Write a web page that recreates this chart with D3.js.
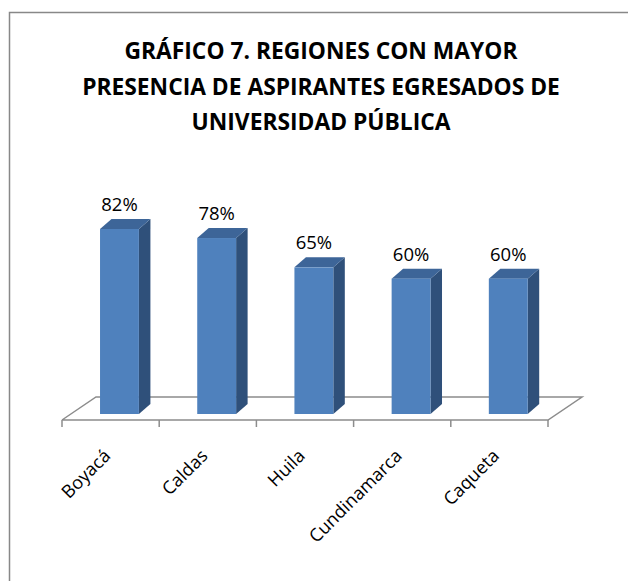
<!DOCTYPE html>
<html>
<head>
<meta charset="utf-8">
<script src="https://cdn.jsdelivr.net/npm/d3@7"></script>
<style>
  body { margin: 0; background: #fff; }
  svg { display: block; font-family: "Open Sans", sans-serif; }
</style>
</head>
<body>
<svg id="chart"></svg>
<script>
var categories = ["Boyacá", "Caldas", "Huila", "Cundinamarca", "Caqueta"];
var values = [82, 78, 65, 60, 60];
var valueLabels = ["82%", "78%", "65%", "60%", "60%"];
var titleLines = ["GRÁFICO 7. REGIONES CON MAYOR", "PRESENCIA DE ASPIRANTES EGRESADOS DE", "UNIVERSIDAD PÚBLICA"];

var width = 628, height = 581;
var svg = d3.select("#chart")
    .attr("width", width)
    .attr("height", height);

// chart frame (right and bottom fall outside the picture)
svg.append("rect")
    .attr("x", 9.5).attr("y", 12.5)
    .attr("width", 640).attr("height", 600)
    .attr("fill", "#fff")
    .attr("stroke", "#888").attr("stroke-width", 1.5);

// title
svg.append("g").selectAll("text")
    .data(titleLines)
    .enter().append("text")
    .attr("x", 321)
    .attr("y", (d, i) => 59 + i * 35.5)
    .attr("text-anchor", "middle")
    .attr("font-size", 22.8)
    .attr("font-weight", "bold")
    .attr("fill", "#000")
    .text(d => d);

// floor geometry
var floorY = 420, floorDx = 34, floorDy = -23;
var x = d3.scaleBand()
    .domain(categories)
    .range([62, 548])
    .paddingInner(0.6)
    .paddingOuter(0.3);

// bars stand a bit behind the floor front edge
var depthFrac = 6 / 23;
var ox = floorDx * depthFrac, oy = floorDy * depthFrac;
var y = d3.scaleLinear().domain([0, 100]).range([floorY + oy, floorY + oy - 225.6]);

var x0 = x.range()[0], x1 = x.range()[1];
svg.append("path")
    .attr("d", d3.line()([[x0, floorY], [x1, floorY], [x1 + floorDx, floorY + floorDy], [x0 + floorDx, floorY + floorDy], [x0, floorY]]))
    .attr("fill", "none")
    .attr("stroke", "#8c8c8c")
    .attr("stroke-width", 1.5);

// category ticks at band boundaries
svg.append("g").selectAll("line")
    .data(d3.range(categories.length + 1))
    .enter().append("line")
    .attr("x1", i => x0 + i * x.step())
    .attr("x2", i => x0 + i * x.step())
    .attr("y1", floorY)
    .attr("y2", floorY + 7)
    .attr("stroke", "#8c8c8c")
    .attr("stroke-width", 1.5);

// 3D bars
var bw = x.bandwidth(), bdx = 11.5, bdy = -10;
var bars = svg.append("g").selectAll("g")
    .data(categories)
    .enter().append("g");

bars.append("path") // side
    .attr("d", (c, i) => {
        var l = x(c) + ox + bw, t = y(values[i]), b = y(0);
        return d3.line()([[l, t], [l + bdx, t + bdy], [l + bdx, b + bdy], [l, b]]) + "Z";
    })
    .attr("fill", "#2f507a");

bars.append("path") // top
    .attr("d", (c, i) => {
        var l = x(c) + ox, t = y(values[i]);
        return d3.line()([[l, t], [l + bdx, t + bdy], [l + bw + bdx, t + bdy], [l + bw, t]]) + "Z";
    })
    .attr("fill", "#3d6598");

bars.append("rect") // front
    .attr("x", c => x(c) + ox)
    .attr("y", (c, i) => y(values[i]))
    .attr("width", bw)
    .attr("height", (c, i) => y(0) - y(values[i]))
    .attr("fill", "#4f81bd");

// value labels
svg.append("g").selectAll("text")
    .data(categories)
    .enter().append("text")
    .attr("x", c => x(c) + ox + bw / 2)
    .attr("y", (c, i) => y(values[i]) - 18)
    .attr("text-anchor", "middle")
    .attr("font-size", 18.5)
    .attr("fill", "#000")
    .text((c, i) => valueLabels[i]);

// category labels
svg.append("g").selectAll("text")
    .data(categories)
    .enter().append("text")
    .attr("transform", c => "translate(" + (x(c) + bw / 2 + 1) + "," + 457 + ") rotate(-45)")
    .attr("text-anchor", "end")
    .attr("font-size", 18)
    .attr("fill", "#000")
    .text(c => c);
</script>
</body>
</html>
